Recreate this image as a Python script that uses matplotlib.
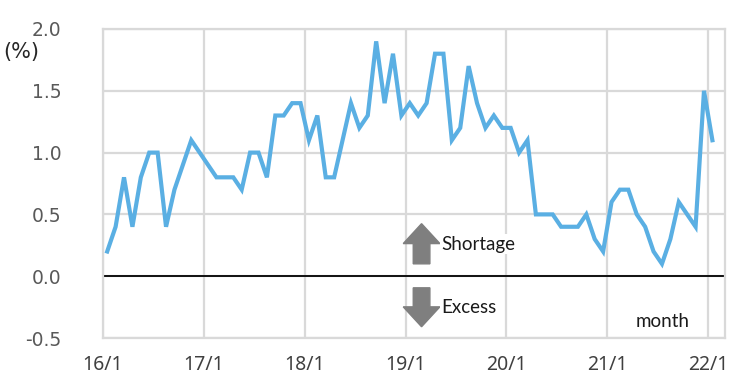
import matplotlib
matplotlib.use("Agg")
import matplotlib.pyplot as plt
from matplotlib.patches import FancyArrow
import numpy as np

# ── Data: monthly values, 2016/1 .. 2022/1 ───────────────────────────────────
VALUES = [
    0.2, 0.4, 0.8, 0.4, 0.8, 1.0, 1.0, 0.4, 0.7, 0.9, 1.1, 1.0,   # 2016
    0.9, 0.8, 0.8, 0.8, 0.7, 1.0, 1.0, 0.8, 1.3, 1.3, 1.4, 1.4,   # 2017
    1.1, 1.3, 0.8, 0.8, 1.1, 1.4, 1.2, 1.3, 1.9, 1.4, 1.8, 1.3,   # 2018
    1.4, 1.3, 1.4, 1.8, 1.8, 1.1, 1.2, 1.7, 1.4, 1.2, 1.3, 1.2,   # 2019
    1.2, 1.0, 1.1, 0.5, 0.5, 0.5, 0.4, 0.4, 0.4, 0.5, 0.3, 0.2,   # 2020
    0.6, 0.7, 0.7, 0.5, 0.4, 0.2, 0.1, 0.3, 0.6, 0.5, 0.4, 1.5,   # 2021
    1.1,                                                          # 2022
]
YEAR_LABELS = ["16/1", "17/1", "18/1", "19/1", "20/1", "21/1", "22/1"]
Y_TICKS = [-0.5, 0.0, 0.5, 1.0, 1.5, 2.0]

LINE_COLOR = "#5aafe3"
GRID_COLOR = "#d9d9d9"
ARROW_COLOR = "#7f7f7f"

W, H = 749, 382
fig = plt.figure(figsize=(W / 100, H / 100), dpi=100)
ax = fig.add_axes([103 / W, 1 - 338 / H, (725 - 103) / W, (338 - 29) / H])

x = np.arange(len(VALUES)) + 0.5
ax.plot(x, VALUES, color=LINE_COLOR, linewidth=3, solid_joinstyle="miter", zorder=3)
ax.axhline(0, color="black", linewidth=1.3, zorder=2)

ax.set_xlim(0, 74)
ax.set_ylim(-0.5, 2.0)
ax.set_xticks(np.arange(len(YEAR_LABELS)) * 12)
ax.set_xticklabels(YEAR_LABELS, fontsize=14, family="Noto Sans", color="#404040")
ax.set_yticks(Y_TICKS)
ax.set_yticklabels([f"{v:.1f}" for v in Y_TICKS], fontsize=13.5,
                   family="DejaVu Sans", color="#595959")
ax.tick_params(length=0)
ax.tick_params(axis="x", pad=12)
ax.tick_params(axis="y", pad=30)
ax.grid(True, color=GRID_COLOR, linewidth=1.6, zorder=0)
for s in ax.spines.values():
    s.set_color(GRID_COLOR)
    s.set_linewidth(1.6)

# ── Shortage / Excess arrows ─────────────────────────────────────────────────
ax.add_patch(FancyArrow(37.9, 0.10, 0, 0.325, width=1.98, head_width=4.36,
                        head_length=0.161, length_includes_head=True,
                        color=ARROW_COLOR, zorder=4))
ax.add_patch(FancyArrow(37.9, -0.094, 0, -0.315, width=1.98, head_width=4.36,
                        head_length=0.161, length_includes_head=True,
                        color=ARROW_COLOR, zorder=4))
box = dict(facecolor="white", edgecolor="none", pad=1)
ax.text(40.3, 0.26, "Shortage", fontsize=13.5, family="Lato", color="#1a1a1a",
        va="center", ha="left", bbox=box, zorder=4)
ax.text(40.3, -0.25, "Excess", fontsize=13.5, family="Lato", color="#1a1a1a",
        va="center", ha="left", bbox=box, zorder=4)
ax.text(63.4, -0.37, "month", fontsize=13.5, family="Lato", color="#1a1a1a",
        va="center", ha="left", bbox=box, zorder=4)

fig.text(3 / W, 1 - 52 / H, "(%)", fontsize=15, family="DejaVu Sans",
         color="#262626", va="center", ha="left")

fig.savefig("out.png", dpi=100)
